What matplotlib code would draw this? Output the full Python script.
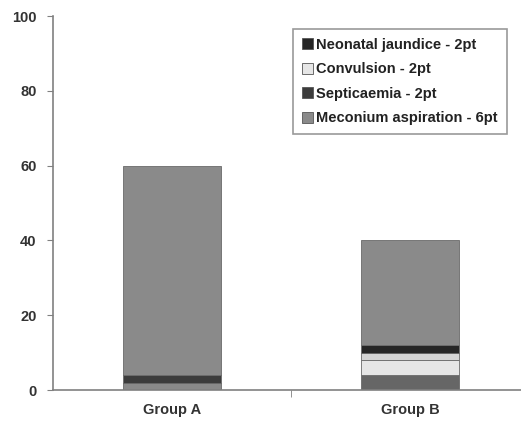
import numpy as np
import matplotlib.pyplot as plt
from matplotlib.patches import Patch

plt.rcParams['font.family'] = ['Liberation Sans', 'DejaVu Sans']

# Data (stacked from the bottom up)
groups = ['Group A', 'Group B']
base = [2, 4]
septicaemia = [2, 0]
convulsion = [0, 4]
convulsion_top = [0, 2]
jaundice = [0, 2]
meconium = [56, 28]

legend_labels = ['Neonatal jaundice - 2pt', 'Convulsion - 2pt',
                 'Septicaemia - 2pt', 'Meconium aspiration - 6pt']
legend_colors = ['#262626', '#e6e6e6', '#3c3c3c', '#8a8a8a']

yticks = [0, 20, 40, 60, 80, 100]

fig = plt.figure(figsize=(5.21, 4.24), dpi=100)
ax = fig.add_axes([0.102, 0.080, 0.914, 0.882])

x = np.arange(len(groups))
w = 0.41
layers = [
    (base, ['#8a8a8a', '#666666']),
    (septicaemia, ['#3c3c3c', '#3c3c3c']),
    (convulsion, ['#e6e6e6', '#e6e6e6']),
    (convulsion_top, ['#d4d4d4', '#d4d4d4']),
    (jaundice, ['#262626', '#262626']),
    (meconium, ['#8a8a8a', '#8a8a8a']),
]
bottom = np.zeros(len(groups))
for vals, cols in layers:
    vals = np.array(vals, dtype=float)
    ax.bar(x, vals, w, bottom=bottom, color=cols, edgecolor='#6a6a6a', linewidth=0.6)
    bottom += vals

ax.set_xlim(-0.5, 1.5)
ax.set_ylim(0, 100)
ax.set_yticks(yticks)
ax.set_xticks(x)
ax.set_xticklabels(groups, fontweight='bold', fontsize=10.5, color='#333333')
ax.set_xticks([0.5], minor=True)
ax.tick_params(axis='x', which='major', length=0, pad=9)
ax.tick_params(axis='x', which='minor', length=5, color='#808080', direction='out')
ax.tick_params(axis='y', length=4, color='#808080', direction='out', pad=8)
for lab in ax.get_yticklabels():
    lab.set_fontweight('bold')
    lab.set_fontsize(10.5)
    lab.set_color('#333333')

for s in ['top', 'right']:
    ax.spines[s].set_visible(False)
for s in ['left', 'bottom']:
    ax.spines[s].set_color('#808080')
    ax.spines[s].set_linewidth(1.2)

handles = [Patch(facecolor=c, edgecolor='#555555', linewidth=0.6) for c in legend_colors]
leg = fig.legend(handles, legend_labels, loc='upper left',
                 bbox_to_anchor=(293 / 521, 1 - 29 / 424),
                 prop={'weight': 'bold', 'size': 10.5}, frameon=True, fancybox=False,
                 handlelength=0.75, handleheight=0.75, handletextpad=0.25,
                 labelspacing=0.72, borderpad=0.6, borderaxespad=0)
leg.get_frame().set_edgecolor('#808080')
leg.get_frame().set_linewidth(1.2)
for t in leg.get_texts():
    t.set_color('#222222')

fig.savefig('out.png', dpi=100)
